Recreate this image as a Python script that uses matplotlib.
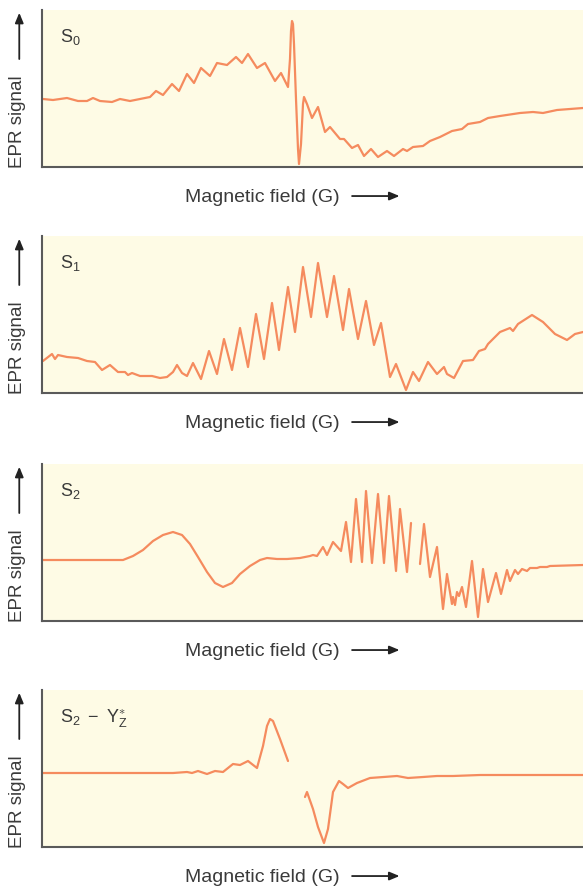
import numpy as np
import matplotlib
matplotlib.use('Agg')
import matplotlib.pyplot as plt

plt.rcParams['font.family'] = ['Liberation Sans', 'DejaVu Sans']
plt.rcParams['mathtext.fontset'] = 'custom'
plt.rcParams['mathtext.rm'] = 'Liberation Sans'
plt.rcParams['mathtext.it'] = 'Liberation Sans'

# field axis in arbitrary units, signal in arbitrary units (0..157)
s0_x = [43, 53, 67, 78, 87, 93, 100, 112, 120, 130,
        140, 150, 156, 163, 172, 179, 187, 194, 201, 210,
        217, 227, 236, 242, 248, 257, 265, 275, 281, 288,
        290, 291, 292, 293, 294, 296, 298, 299, 301, 303,
        304, 307, 312, 318, 325, 330, 340, 344, 352, 358,
        364, 371, 378, 387, 394, 403, 407, 413, 423, 430,
        440, 452, 462, 468, 480, 488, 500, 520, 533, 543,
        557, 583]
s0_y = [68, 67, 69, 66, 66, 69, 66, 65, 68, 66,
        68, 70, 76, 72, 83, 76, 93, 84, 99, 91,
        104, 102, 110, 104, 113, 99, 104, 86, 94, 80,
        108, 136, 146, 143, 123, 68, 18, 3, 23, 63,
        70, 63, 49, 60, 35, 40, 28, 28, 19, 22,
        11, 18, 10, 16, 11, 18, 16, 20, 21, 26,
        30, 36, 38, 43, 45, 49, 51, 54, 55, 54,
        57, 59]

s1_x = [43, 52, 55, 58, 67, 78, 87, 95, 102, 110,
        118, 125, 128, 132, 140, 152, 160, 167, 173, 177,
        182, 187, 193, 201, 209, 217, 224, 232, 240, 248,
        256, 264, 272, 279, 288, 295, 303, 311, 318, 327,
        334, 343, 349, 358, 366, 374, 381, 390, 396, 406,
        413, 419, 428, 437, 444, 447, 454, 463, 473, 479,
        485, 488, 500, 510, 513, 518, 532, 543, 555, 567,
        575, 583]
s1_y = [32, 39, 34, 38, 36, 35, 32, 31, 23, 28,
        21, 21, 18, 20, 17, 17, 15, 16, 21, 28,
        20, 17, 30, 14, 42, 19, 54, 23, 65, 26,
        79, 34, 90, 43, 106, 61, 126, 76, 130, 76,
        117, 63, 104, 54, 92, 48, 70, 16, 29, 3,
        21, 12, 31, 19, 26, 19, 15, 32, 33, 42,
        44, 49, 61, 65, 62, 69, 78, 71, 59, 53,
        59, 61]

s2_x = [43, 123, 133, 143, 153, 163, 173, 182, 190, 198,
        207, 215, 223, 232, 240, 250, 260, 267, 277, 287,
        300, 310, 313, 317, 323, 327, 333, 341, 346, 351,
        356, 362, 366, 372, 378, 384, 389, 396, 400, 407,
        411, 415, 420, 424, 430, 437, 443, 447, 452, 453,
        455, 457, 459, 462, 466, 472, 478, 483, 488, 496,
        501, 507, 510, 515, 518, 522, 527, 530, 537, 540,
        547, 550, 583]
s2_y = [61, 61, 65, 71, 80, 86, 89, 86, 77, 64,
        49, 38, 34, 38, 47, 55, 61, 63, 62, 62,
        63, 65, 66, 65, 74, 66, 79, 70, 99, 59,
        122, 59, 130, 58, 127, 58, 125, 50, 112, 49,
        98, np.nan, 57, 97, 44, 74, 12, 47, 17, 24,
        16, 29, 25, 34, 14, 60, 4, 52, 19, 48,
        27, 51, 40, 51, 47, 52, 50, 53, 53, 54,
        54, 55, 56]

s2yz_x = [43, 173, 187, 192, 198, 207, 215, 223, 233, 240,
          248, 257, 263, 267, 270, 273, 280, 288, 296, 305,
          307, 313, 318, 324, 328, 333, 339, 343, 348, 357,
          370, 397, 408, 423, 437, 453, 480, 513, 583]
s2yz_y = [74, 74, 75, 74, 76, 73, 76, 75, 83, 82,
          86, 79, 101, 121, 128, 126, 108, 86, np.nan, 50,
          55, 38, 20, 4, 18, 55, 66, 63, 59, 64,
          69, 71, 69, 70, 71, 71, 72, 72, 72]

panels = [
    (r'$\mathrm{S_0}$', s0_x, s0_y, 168),
    (r'$\mathrm{S_1}$', s1_x, s1_y, 394),
    (r'$\mathrm{S_2}$', s2_x, s2_y, 622),
    (r'$\mathrm{S_2\ -\ Y_Z^{\ast}}$', s2yz_x, s2yz_y, 848),
]

W, H = 583, 887
fig = plt.figure(figsize=(W / 100, H / 100), dpi=100)

line_col = '#F58B5E'
bg_col = '#FEFBE5'
spine_col = '#5a5a5a'
txt_col = '#3a3a3a'

for label, xs, ys, bottom in panels:
    ax = fig.add_axes([42 / W, 1 - bottom / H, 541 / W, 157 / H])
    ax.set_facecolor(bg_col)
    ax.plot(np.array(xs) - 42, ys, color=line_col, linewidth=1.6,
            solid_joinstyle='round', solid_capstyle='round')
    ax.set_xlim(0, 541)
    ax.set_ylim(0, 157)
    ax.set_xticks([])
    ax.set_yticks([])
    for side in ['top', 'right']:
        ax.spines[side].set_visible(False)
    for side in ['left', 'bottom']:
        ax.spines[side].set_color(spine_col)
        ax.spines[side].set_linewidth(1.5)

    ax.text(0.033, 0.9, label, transform=ax.transAxes, fontsize=13,
            color=txt_col, ha='left', va='top')

    # y label + arrow
    ax.text(-0.046, 0.0, 'EPR signal', transform=ax.transAxes, fontsize=13.5,
            rotation=90, ha='center', va='bottom', color=txt_col)
    ax.annotate('', xy=(-0.042, 1.0), xytext=(-0.042, 0.67),
                xycoords='axes fraction', textcoords='axes fraction',
                arrowprops=dict(arrowstyle='-|>,head_length=0.6,head_width=0.25',
                                color='#222222', lw=1.3), annotation_clip=False)

    # x label + arrow
    ax.text(0.4067, -0.185, 'Magnetic field (G)', transform=ax.transAxes, fontsize=14,
            ha='center', va='center', color=txt_col)
    ax.annotate('', xy=(0.666, -0.185), xytext=(0.568, -0.185),
                xycoords='axes fraction', textcoords='axes fraction',
                arrowprops=dict(arrowstyle='-|>,head_length=0.6,head_width=0.25',
                                color='#222222', lw=1.3), annotation_clip=False)

fig.savefig('out.png', dpi=100, facecolor='white')
